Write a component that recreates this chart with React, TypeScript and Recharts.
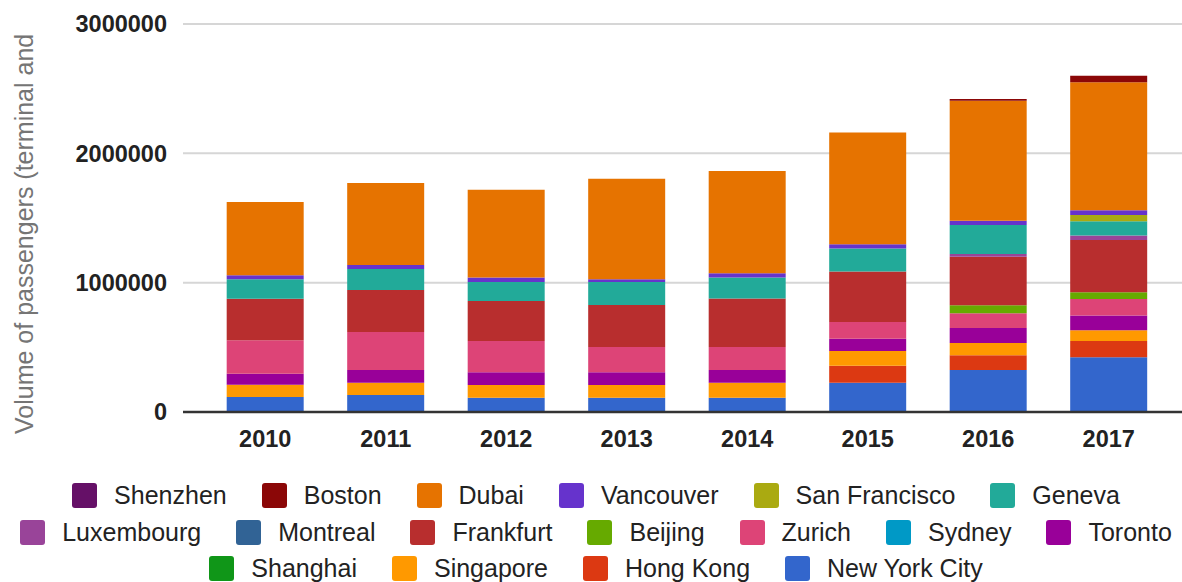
import { BarChart, Bar, XAxis, YAxis, CartesianGrid, Legend } from 'recharts'

// Passenger volumes per city
const years = ['2010', '2011', '2012', '2013', '2014', '2015', '2016', '2017']

const newYorkCity = [116000, 131000, 111000, 111000, 111000, 227000, 325000, 423000]
const hongKong = [0, 0, 0, 0, 0, 131000, 114000, 126000]
const singapore = [95000, 95000, 98000, 98000, 116000, 113000, 95000, 83000]
const shanghai = [0, 0, 0, 0, 0, 0, 0, 0]
const toronto = [85000, 98000, 98000, 98000, 98000, 96000, 116000, 114000]
const sydney = [0, 0, 0, 0, 0, 0, 0, 0]
const zurich = [258000, 294000, 242000, 196000, 178000, 128000, 114000, 128000]
const beijing = [0, 0, 0, 0, 0, 0, 62000, 52000]
const frankfurt = [322000, 325000, 309000, 325000, 374000, 392000, 374000, 404000]
const montreal = [0, 0, 0, 0, 0, 0, 0, 0]
const luxembourg = [0, 0, 0, 0, 0, 0, 21000, 34000]
const geneva = [150000, 162000, 147000, 178000, 162000, 178000, 224000, 111000]
const sanFrancisco = [0, 0, 0, 0, 0, 0, 0, 49000]
const vancouver = [31000, 31000, 34000, 21000, 33000, 33000, 33000, 36000]
const dubai = [567000, 634000, 680000, 776000, 791000, 864000, 928000, 990000]
const boston = [0, 0, 0, 0, 0, 0, 15000, 49000]
const shenzhen = [0, 0, 0, 0, 0, 0, 0, 0]

const yTicks = [0, 1000000, 2000000, 3000000]
const yTitle = 'Volume of passengers (terminal and'

// stacking order, bottom first
const series = [
  { key: 'New York City', values: newYorkCity, color: '#3366cc' },
  { key: 'Hong Kong', values: hongKong, color: '#dc3912' },
  { key: 'Singapore', values: singapore, color: '#ff9900' },
  { key: 'Shanghai', values: shanghai, color: '#109618' },
  { key: 'Toronto', values: toronto, color: '#990099' },
  { key: 'Sydney', values: sydney, color: '#0099c6' },
  { key: 'Zurich', values: zurich, color: '#dd4477' },
  { key: 'Beijing', values: beijing, color: '#66aa00' },
  { key: 'Frankfurt', values: frankfurt, color: '#b82e2e' },
  { key: 'Montreal', values: montreal, color: '#316395' },
  { key: 'Luxembourg', values: luxembourg, color: '#994499' },
  { key: 'Geneva', values: geneva, color: '#22aa99' },
  { key: 'San Francisco', values: sanFrancisco, color: '#aaaa11' },
  { key: 'Vancouver', values: vancouver, color: '#6633cc' },
  { key: 'Dubai', values: dubai, color: '#e67300' },
  { key: 'Boston', values: boston, color: '#8b0707' },
  { key: 'Shenzhen', values: shenzhen, color: '#651067' },
]

// legend lists the top of the stack first, wrapped in three rows
const legendRows = [6, 7, 4]
const legendRowHeights = [38, 37, 35]

const chartData = years.map((year, i) => {
  const row: Record<string, string | number> = { year }
  series.forEach(s => { row[s.key] = s.values[i] })
  return row
})

const FONT = 'Arial, "Liberation Sans", sans-serif'

function LegendContent() {
  const items = [...series].reverse()
  const rows: typeof items[] = []
  let start = 0
  legendRows.forEach(n => {
    rows.push(items.slice(start, start + n))
    start += n
  })
  return (
    <div style={{ width: 1172, paddingLeft: 10, fontFamily: FONT, fontSize: 25, color: '#222' }}>
      {rows.map((row, r) => (
        <div
          key={r}
          style={{ height: legendRowHeights[r], display: 'flex', justifyContent: 'center', alignItems: 'center', columnGap: 35 }}
        >
          {row.map(item => (
            <div key={item.key} style={{ display: 'flex', alignItems: 'center' }}>
              <span style={{ width: 25, height: 25, borderRadius: 3, background: item.color, marginRight: 17 }} />
              <span style={{ whiteSpace: 'nowrap', lineHeight: '25px' }}>{item.key}</span>
            </div>
          ))}
        </div>
      ))}
    </div>
  )
}

export default function App() {
  return (
    <div style={{ position: 'absolute', left: 0, top: 0, background: '#fff' }}>
      <BarChart
        width={1182}
        height={582}
        data={chartData}
        margin={{ top: 24, right: 0, left: 0, bottom: 110 }}
        barCategoryGap="18%"
      >
        <CartesianGrid vertical={false} stroke="#d6d6d6" strokeWidth={2} />
        <XAxis
          dataKey="year"
          height={60}
          padding={{ left: 22, right: 13 }}
          tickLine={false}
          tickMargin={12}
          axisLine={{ stroke: '#333', strokeWidth: 2.5 }}
          tick={{ fontSize: 23.5, fontWeight: 'bold', fill: '#222', fontFamily: FONT }}
        />
        <YAxis
          width={183}
          domain={[0, 3000000]}
          ticks={yTicks}
          interval={0}
          axisLine={false}
          tickLine={false}
          tickMargin={10}
          tick={{ fontSize: 23.5, fontWeight: 'bold', fill: '#222', fontFamily: FONT }}
          label={() => (
            <text
              x={33}
              y={434}
              transform="rotate(-90 33 434)"
              fill="#757575"
              fontSize={25}
              fontFamily={FONT}
              textAnchor="start"
            >
              {yTitle}
            </text>
          )}
        />
        <Legend
          layout="horizontal"
          verticalAlign="middle"
          align="center"
          wrapperStyle={{ left: 0, top: 476, width: 1182 }}
          content={() => <LegendContent />}
        />
        {series.map(s => (
          <Bar key={s.key} dataKey={s.key} stackId="a" fill={s.color} isAnimationActive={false} />
        ))}
      </BarChart>
    </div>
  )
}
